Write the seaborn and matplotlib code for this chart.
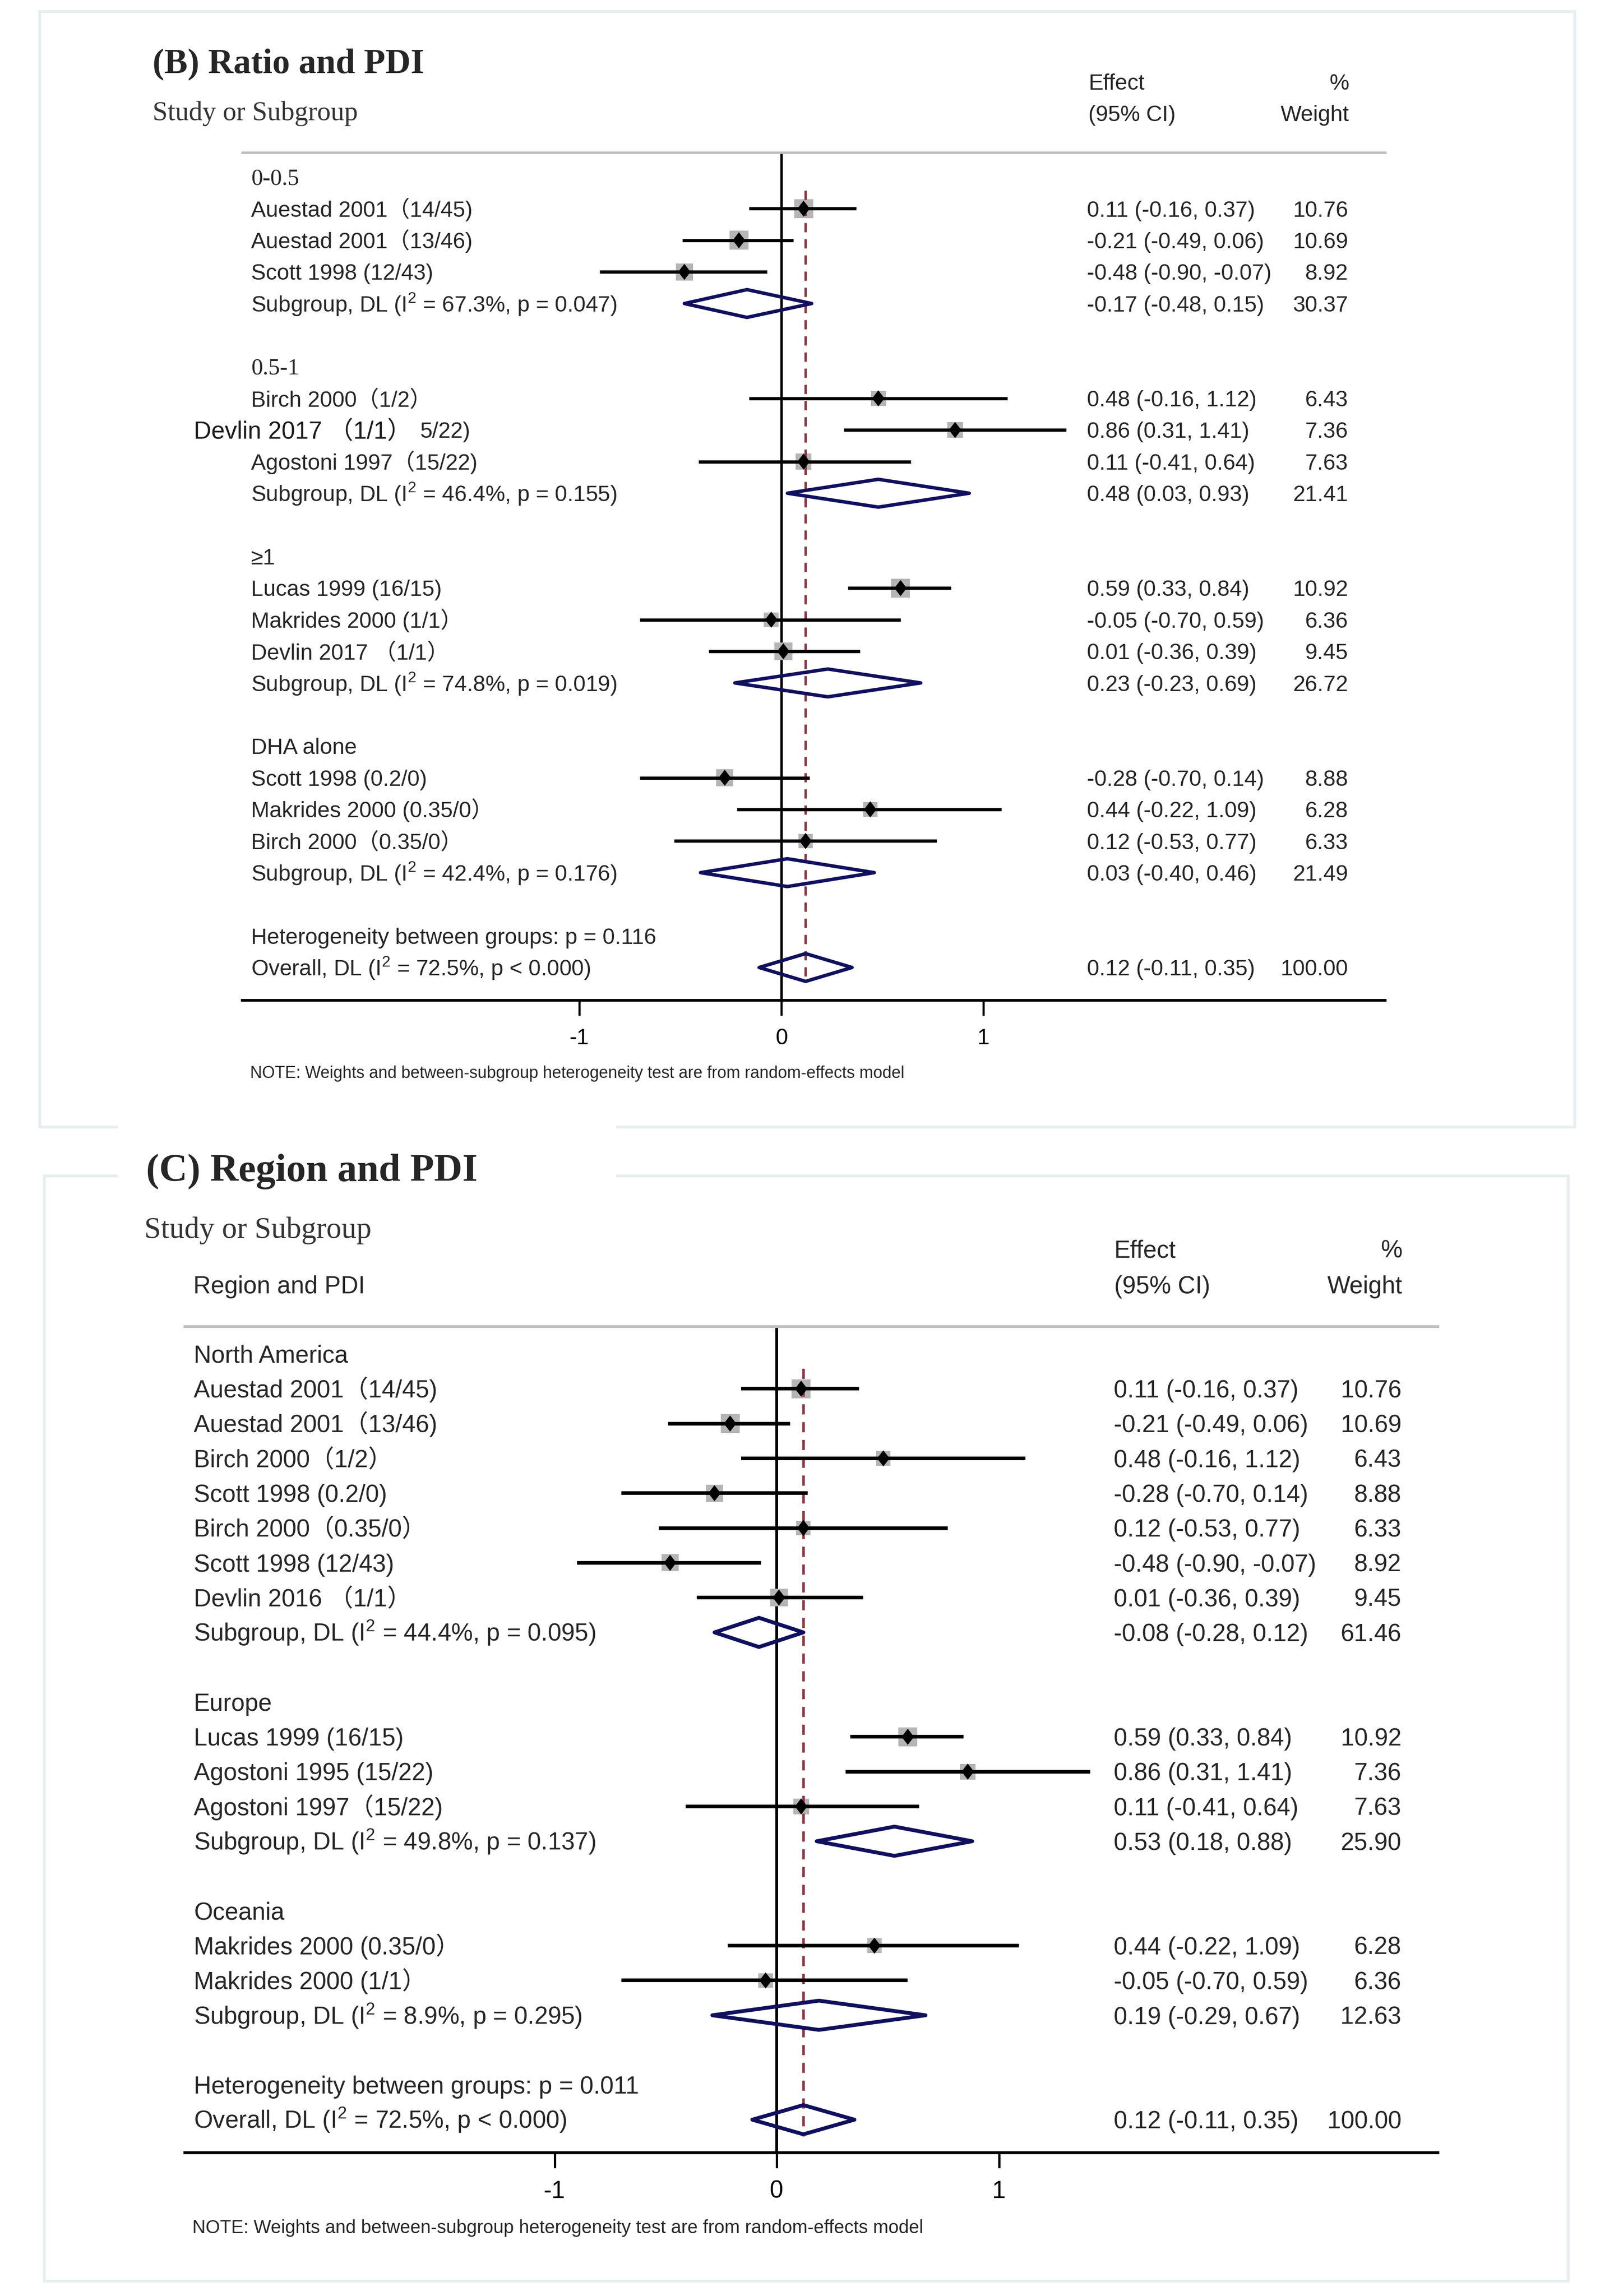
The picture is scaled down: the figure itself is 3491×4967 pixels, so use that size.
"""Subgroup forest plots: (B) Ratio and PDI, (C) Region and PDI."""

import matplotlib

matplotlib.use("Agg")
import matplotlib.pyplot as plt
import matplotlib.transforms as mtransforms
from matplotlib.lines import Line2D
from matplotlib.markers import MarkerStyle
from matplotlib.patches import Polygon
from matplotlib.path import Path
import pandas as pd
import seaborn as sns

W, H, DPI = 3491, 4967, 300

# ---------------------------------------------------------------- panel B data
B_LABELS = [
    "0-0.5",
    "Auestad 2001（14/45)",
    "Auestad 2001（13/46)",
    "Scott 1998 (12/43)",
    "Subgroup, DL (I$^{2}$ = 67.3%, p = 0.047)",
    "",
    "0.5-1",
    "Birch 2000（1/2）",
    "Devlin 2017 （1/1）",
    "Agostoni 1997（15/22)",
    "Subgroup, DL (I$^{2}$ = 46.4%, p = 0.155)",
    "",
    "≥1",
    "Lucas 1999 (16/15)",
    "Makrides 2000 (1/1）",
    "Devlin 2017 （1/1）",
    "Subgroup, DL (I$^{2}$ = 74.8%, p = 0.019)",
    "",
    "DHA alone",
    "Scott 1998 (0.2/0)",
    "Makrides 2000 (0.35/0）",
    "Birch 2000（0.35/0）",
    "Subgroup, DL (I$^{2}$ = 42.4%, p = 0.176)",
    "",
    "Heterogeneity between groups: p = 0.116",
    "Overall, DL (I$^{2}$ = 72.5%, p < 0.000)",
]
B_SERIF_ROWS = [0, 6]
B_PASTED_ROW = 8
B_PASTED_TAIL = "5/22)"
B_STUDY_ROWS = [1, 2, 3, 7, 8, 9, 13, 14, 15, 19, 20, 21]
B_STUDY_ES = [0.11, -0.21, -0.48, 0.48, 0.86, 0.11, 0.59, -0.05, 0.01, -0.28, 0.44, 0.12]
B_STUDY_LO = [-0.16, -0.49, -0.90, -0.16, 0.31, -0.41, 0.33, -0.70, -0.36, -0.70, -0.22, -0.53]
B_STUDY_HI = [0.37, 0.06, -0.07, 1.12, 1.41, 0.64, 0.84, 0.59, 0.39, 0.14, 1.09, 0.77]
B_STUDY_WT = [10.76, 10.69, 8.92, 6.43, 7.36, 7.63, 10.92, 6.36, 9.45, 8.88, 6.28, 6.33]
B_POOL_ROWS = [4, 10, 16, 22, 25]
B_POOL_ES = [-0.17, 0.48, 0.23, 0.03, 0.12]
B_POOL_LO = [-0.48, 0.03, -0.23, -0.40, -0.11]
B_POOL_HI = [0.15, 0.93, 0.69, 0.46, 0.35]
B_POOL_WT = [30.37, 21.41, 26.72, 21.49, 100.00]

# ---------------------------------------------------------------- panel C data
C_LABELS = [
    "North America",
    "Auestad 2001（14/45)",
    "Auestad 2001（13/46)",
    "Birch 2000（1/2）",
    "Scott 1998 (0.2/0)",
    "Birch 2000（0.35/0）",
    "Scott 1998 (12/43)",
    "Devlin 2016 （1/1）",
    "Subgroup, DL (I$^{2}$ = 44.4%, p = 0.095)",
    "",
    "Europe",
    "Lucas 1999 (16/15)",
    "Agostoni 1995 (15/22)",
    "Agostoni 1997（15/22)",
    "Subgroup, DL (I$^{2}$ = 49.8%, p = 0.137)",
    "",
    "Oceania",
    "Makrides 2000 (0.35/0）",
    "Makrides 2000 (1/1）",
    "Subgroup, DL (I$^{2}$ = 8.9%, p = 0.295)",
    "",
    "Heterogeneity between groups: p = 0.011",
    "Overall, DL (I$^{2}$ = 72.5%, p < 0.000)",
]
C_STUDY_ROWS = [1, 2, 3, 4, 5, 6, 7, 11, 12, 13, 17, 18]
C_STUDY_ES = [0.11, -0.21, 0.48, -0.28, 0.12, -0.48, 0.01, 0.59, 0.86, 0.11, 0.44, -0.05]
C_STUDY_LO = [-0.16, -0.49, -0.16, -0.70, -0.53, -0.90, -0.36, 0.33, 0.31, -0.41, -0.22, -0.70]
C_STUDY_HI = [0.37, 0.06, 1.12, 0.14, 0.77, -0.07, 0.39, 0.84, 1.41, 0.64, 1.09, 0.59]
C_STUDY_WT = [10.76, 10.69, 6.43, 8.88, 6.33, 8.92, 9.45, 10.92, 7.36, 7.63, 6.28, 6.36]
C_POOL_ROWS = [8, 14, 19, 22]
C_POOL_ES = [-0.08, 0.53, 0.19, 0.12]
C_POOL_LO = [-0.28, 0.18, -0.29, -0.11]
C_POOL_HI = [0.12, 0.88, 0.67, 0.35]
C_POOL_WT = [61.46, 25.90, 12.63, 100.00]

XTICKS = [-1, 0, 1]
NOTE = "NOTE: Weights and between-subgroup heterogeneity test are from random-effects model"

# ---------------------------------------------------------------- styling
SANS = ["Liberation Sans", "Noto Sans CJK SC", "DejaVu Sans"]
SERIF = ["Liberation Serif", "Noto Sans CJK SC", "DejaVu Serif"]
SANS_CAP, SERIF_CAP = 0.716, 0.662
BOX_GREY = "#b5b5b5"
HEADER_GREY = "#bebebe"
NAVY = "#10105e"
RED = "#8f3440"
FRAME = "#e6eef0"
WT_NORM = 12.0

# pixel layout of each Stata panel
LAYOUT_B = dict(
    ax_px=(524, 2996, 330, 2164), x0=1690, unit=437, row0=383, step=68.4,
    body=11.5, serif=12.0, label_px=543, effect_px=2351, weight_px=2916,
    diamond_h=0.44, line_scale=1.0,
    title=("(B) Ratio and PDI", 330, 133, 18.2),
    study=("Study or Subgroup", 330, 241, 14.1),
    heads=[("Effect", 2354, 177, "left"), ("(95% CI)", 2354, 245, "left"),
           ("%", 2918, 177, "right"), ("Weight", 2918, 245, "right")],
    note=(541, 2319, 8.6),
    tick_pad=6.6,
)
LAYOUT_C = dict(
    ax_px=(400, 3110, 2870, 4657), x0=1680, unit=480.5, row0=2929, step=75.3,
    body=12.65, serif=13.2, label_px=419, effect_px=2409, weight_px=3031,
    diamond_h=0.42, line_scale=1.1,
    title=("(C) Region and PDI", 316, 2527, 20.3),
    study=("Study or Subgroup", 312, 2656, 15.6),
    heads=[("Region and PDI", 418, 2779, "left"),
           ("Effect", 2410, 2702, "left"), ("(95% CI)", 2410, 2779, "left"),
           ("%", 3033, 2702, "right"), ("Weight", 3033, 2779, "right")],
    note=(416, 4817, 9.57),
    tick_pad=6.2,
)

DIAMOND = MarkerStyle(Path([(0, 1), (0.77, 0), (0, -1), (-0.77, 0), (0, 1)], closed=True))


def fig_label(fig, x, y, s, size, family=SANS, cap=SANS_CAP, ha="left", **kw):
    """Text whose cap height is centred on pixel (x, y)."""
    base = y + cap * size * DPI / 72 / 2
    fig.text(x / W, 1 - base / H, s, ha=ha, va="baseline", fontsize=size,
             family=family, **kw)


def row_label(ax, x, row, s, size, family=SANS, cap=SANS_CAP, ha="left", **kw):
    tr = mtransforms.offset_copy(ax.transData, fig=ax.figure, y=-cap * size / 2,
                                 units="points")
    ax.text(x, row, s, transform=tr, ha=ha, va="baseline", fontsize=size,
            family=family, clip_on=False, **kw)


def frame(fig, x1, y1, x2, y2):
    fig.add_artist(Line2D([x1 / W, x2 / W], [1 - y1 / H, 1 - y2 / H], color=FRAME,
                          lw=1.45, solid_capstyle="projecting"))


def draw_panel(fig, lay, labels, study, pool, serif_rows=(), pasted=None):
    left, right, top, bottom = lay["ax_px"]
    ax = fig.add_axes([left / W, 1 - bottom / H, (right - left) / W, (bottom - top) / H])
    ax.patch.set_alpha(0)
    to_x = lambda px: (px - lay["x0"]) / lay["unit"]
    ax.set_xlim(to_x(left), to_x(right))
    ax.set_ylim((bottom - lay["row0"]) / lay["step"], (top - lay["row0"]) / lay["step"])
    ls = lay["line_scale"]
    body = lay["body"]

    ax.axvline(0, color="black", lw=1.3 * ls, zorder=1)
    overall = pool["es"].iloc[-1]
    ax.plot([overall, overall], [study["row"].min() - 0.57, pool["row"].max() + 0.49],
            color=RED, lw=1.2 * ls, dashes=(4, 3), zorder=2.5)

    sns.scatterplot(data=study, x="es", y="row", size="wt", sizes=(0, 9 * WT_NORM),
                    size_norm=(0, WT_NORM), marker="s", color=BOX_GREY,
                    linewidth=0, legend=False, ax=ax, zorder=2)
    ax.hlines(study["row"], study["lo"], study["hi"], color="black", lw=1.7 * ls,
              zorder=3)
    sns.scatterplot(data=study, x="es", y="row", marker=DIAMOND, s=70, color="black",
                    edgecolor="none", linewidth=0, legend=False, ax=ax, zorder=4)
    h = lay["diamond_h"]
    for r in pool.itertuples(index=False):
        ax.add_patch(Polygon([(r.lo, r.row), (r.es, r.row - h), (r.hi, r.row),
                              (r.es, r.row + h)], closed=True, fill=False,
                             edgecolor=NAVY, lw=1.8 * ls, joinstyle="round", zorder=4))

    # text columns
    lx = to_x(lay["label_px"])
    for i, s in enumerate(labels):
        if not s:
            continue
        if i in serif_rows:
            row_label(ax, lx, i, s, lay["serif"], family=SERIF, cap=SERIF_CAP)
        elif pasted is not None and i == pasted[0]:
            row_label(ax, to_x(419), i, s, 12.65, color="#1c1c1c")
            row_label(ax, to_x(908), i, pasted[1], body)
        else:
            row_label(ax, lx, i, s, body)
    for r in pd.concat([study, pool]).itertuples(index=False):
        row_label(ax, to_x(lay["effect_px"]), r.row,
                  f"{r.es:.2f} ({r.lo:.2f}, {r.hi:.2f})", body)
        row_label(ax, to_x(lay["weight_px"]), r.row, f"{r.wt:.2f}", body, ha="right")

    # axes decoration
    ax.set(xlabel="", ylabel="")
    ax.set_xticks(XTICKS)
    ax.set_xticklabels([str(t) for t in XTICKS])
    ax.set_yticks([])
    ax.tick_params(axis="x", bottom=True, top=False, direction="out", length=7.9,
                   width=1.1 * ls, pad=lay["tick_pad"], labelsize=body,
                   colors="black")
    for side in ("left", "right"):
        ax.spines[side].set_visible(False)
    ax.spines["top"].set_color(HEADER_GREY)
    ax.spines["top"].set_linewidth(1.3 * ls)
    ax.spines["bottom"].set_color("black")
    ax.spines["bottom"].set_linewidth(1.4 * ls)

    # headers and note
    t, x, y, size = lay["title"]
    fig_label(fig, x, y, t, size, family=SERIF, cap=SERIF_CAP, fontweight="bold")
    t, x, y, size = lay["study"]
    fig_label(fig, x, y, t, size, family=SERIF, cap=SERIF_CAP, color="#353535")
    for t, x, y, ha in lay["heads"]:
        fig_label(fig, x, y, t, body, ha=ha)
    x, y, size = lay["note"]
    fig_label(fig, x, y, NOTE, size)
    return ax


def frame_tables(rows, es, lo, hi, wt):
    return pd.DataFrame({"row": rows, "es": es, "lo": lo, "hi": hi, "wt": wt})


def main():
    sns.set_theme(style="white")
    plt.rcParams["font.family"] = SANS
    plt.rcParams["mathtext.fontset"] = "custom"
    plt.rcParams["mathtext.rm"] = "Liberation Sans"
    plt.rcParams["mathtext.it"] = "Liberation Sans:italic"
    plt.rcParams["mathtext.bf"] = "Liberation Sans:bold"
    plt.rcParams["axes.unicode_minus"] = False

    fig = plt.figure(figsize=(W / DPI, H / DPI), dpi=DPI)
    fig.patch.set_facecolor("white")

    # light panel frames (gap left for the pasted panel C title)
    frame(fig, 86, 25, 3406, 25)
    frame(fig, 86, 25, 86, 2438)
    frame(fig, 3406, 25, 3406, 2438)
    frame(fig, 86, 2438, 252, 2438)
    frame(fig, 1335, 2438, 3406, 2438)
    frame(fig, 96, 2544, 252, 2544)
    frame(fig, 1335, 2544, 3392, 2544)
    frame(fig, 96, 2544, 96, 4935)
    frame(fig, 3392, 2544, 3392, 4935)
    frame(fig, 96, 4935, 3392, 4935)

    draw_panel(
        fig, LAYOUT_B, B_LABELS,
        frame_tables(B_STUDY_ROWS, B_STUDY_ES, B_STUDY_LO, B_STUDY_HI, B_STUDY_WT),
        frame_tables(B_POOL_ROWS, B_POOL_ES, B_POOL_LO, B_POOL_HI, B_POOL_WT),
        serif_rows=B_SERIF_ROWS, pasted=(B_PASTED_ROW, B_PASTED_TAIL),
    )
    draw_panel(
        fig, LAYOUT_C, C_LABELS,
        frame_tables(C_STUDY_ROWS, C_STUDY_ES, C_STUDY_LO, C_STUDY_HI, C_STUDY_WT),
        frame_tables(C_POOL_ROWS, C_POOL_ES, C_POOL_LO, C_POOL_HI, C_POOL_WT),
    )

    fig.savefig("out.png", dpi=DPI, facecolor="white")
    plt.close(fig)


if __name__ == "__main__":
    main()
